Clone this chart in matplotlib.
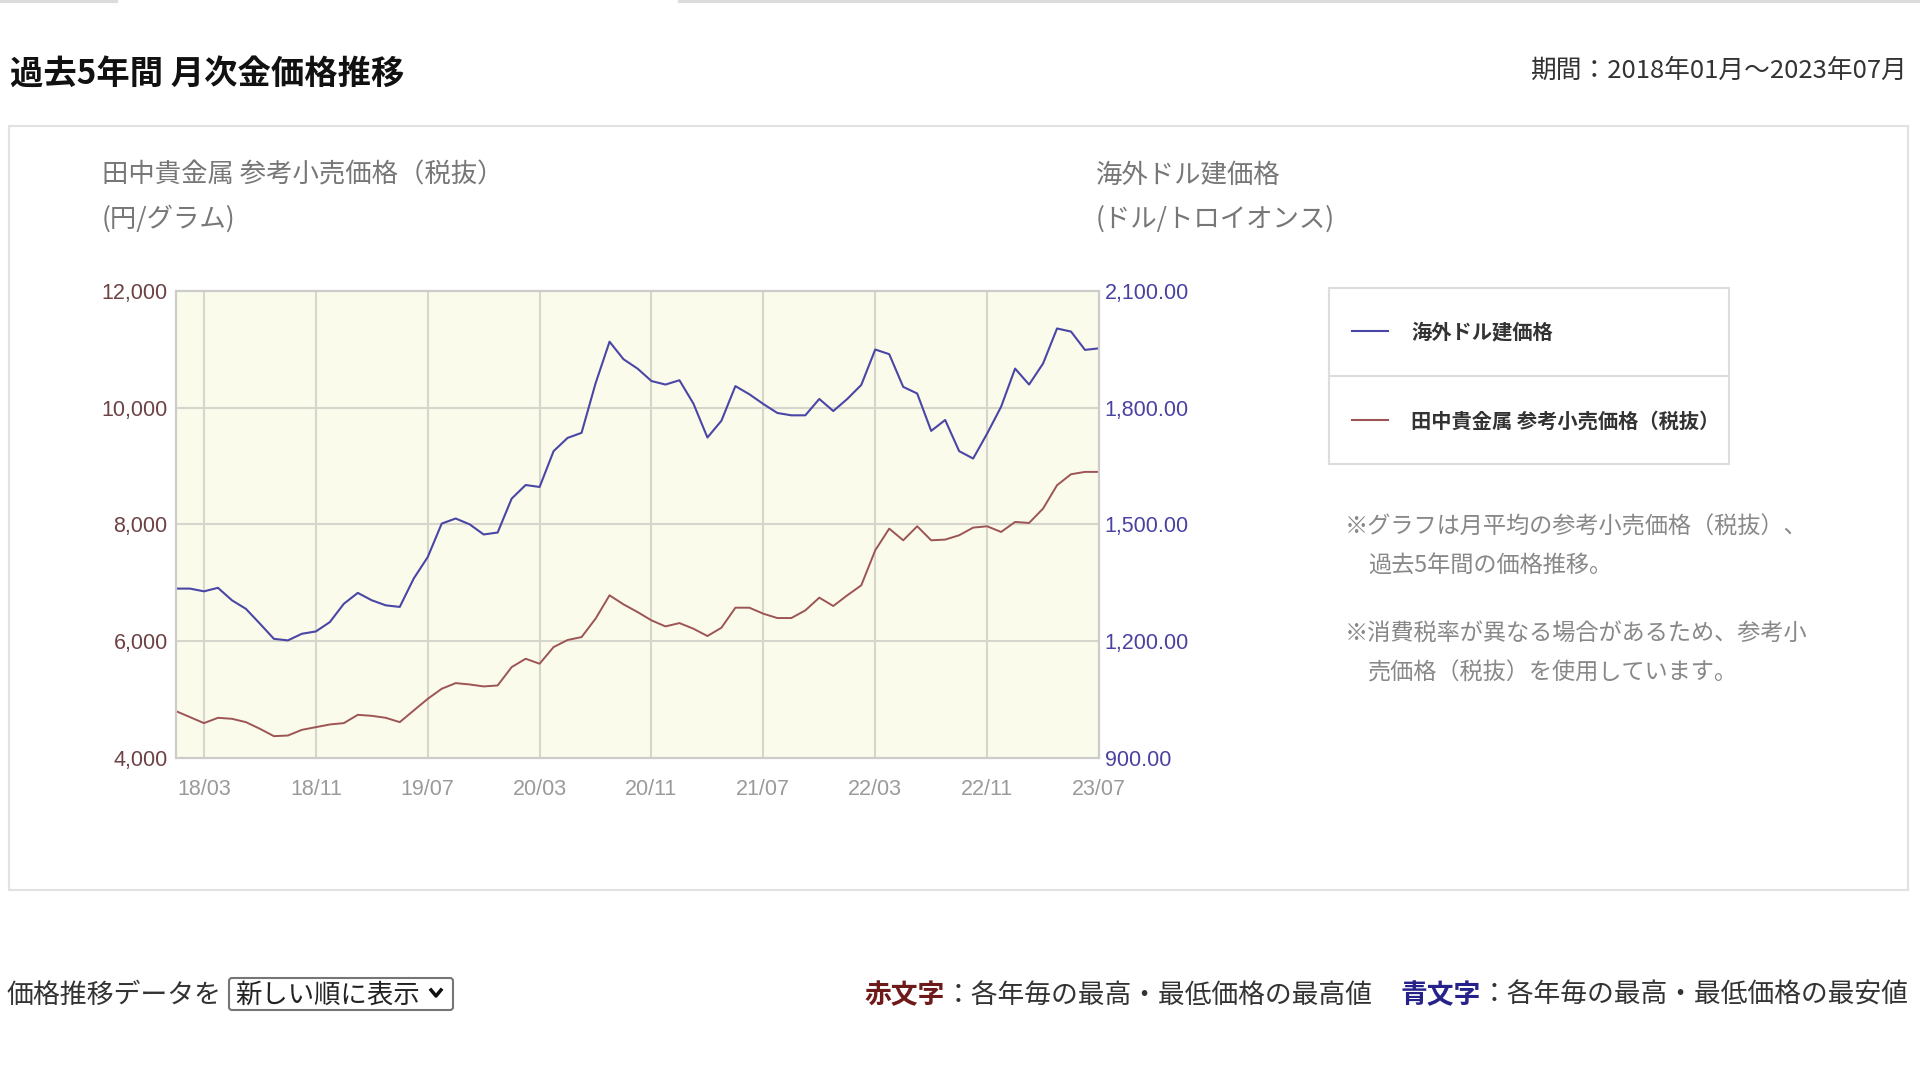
import numpy as np
import pandas as pd
import matplotlib
matplotlib.use('Agg')
import matplotlib.pyplot as plt
from matplotlib.patches import Rectangle, FancyBboxPatch

plt.rcParams['font.family'] = ['Noto Sans CJK JP', 'DejaVu Sans']

# monthly data, 2018/01 - 2023/07
months = pd.date_range('2018-01-01', periods=67, freq='MS')
usd = [1335, 1335, 1328, 1337, 1305, 1283, 1245, 1206, 1202, 1219, 1225, 1249,
       1296, 1324, 1305, 1292, 1288, 1361, 1416, 1502, 1515, 1500, 1474, 1479,
       1566, 1601, 1596, 1688, 1722, 1735, 1862, 1969, 1924, 1900, 1868, 1859,
       1870, 1810, 1723, 1766, 1855, 1834, 1809, 1786, 1780, 1780, 1822, 1791,
       1822, 1858, 1949, 1937, 1853, 1836, 1740, 1768, 1688, 1669, 1733, 1802,
       1900, 1859, 1913, 2003, 1995, 1948, 1952]
yen = [4802, 4700, 4597, 4688, 4671, 4614, 4500, 4374, 4385, 4482, 4528, 4574,
       4597, 4739, 4722, 4688, 4614, 4814, 5013, 5185, 5282, 5259, 5225, 5242,
       5556, 5699, 5614, 5899, 6020, 6070, 6385, 6785, 6630, 6499, 6356, 6253,
       6310, 6213, 6088, 6230, 6573, 6573, 6470, 6396, 6396, 6527, 6745, 6602,
       6785, 6956, 7556, 7927, 7727, 7967, 7727, 7739, 7813, 7944, 7967, 7870,
       8041, 8024, 8270, 8670, 8858, 8898, 8898]
yen_ticks = [4000, 6000, 8000, 10000, 12000]
usd_ticks = [900, 1200, 1500, 1800, 2100]

title = '過去5年間 月次金価格推移'
period = '期間：2018年01月〜2023年07月'
name_usd = '海外ドル建価格'
name_yen = '田中貴金属 参考小売価格（税抜）'
notes = ['※グラフは月平均の参考小売価格（税抜）、', '過去5年間の価格推移。',
         '※消費税率が異なる場合があるため、参考小', '売価格（税抜）を使用しています。']

c_usd = '#4a46a6'
c_yen = '#9c5454'

fig = plt.figure(figsize=(19.2, 10.8), dpi=100)

# background layer in pixel coordinates
bg = fig.add_axes([0, 0, 1, 1], zorder=-1)
bg.set_xlim(0, 1920)
bg.set_ylim(1080, 0)
bg.axis('off')

bg.plot([0, 116], [1, 1], color='#dcdcdc', lw=3)
bg.plot([680, 1920], [1, 1], color='#dcdcdc', lw=3)
bg.text(10, 74, title, fontsize=24, fontweight='bold', color='#111111', va='center')
bg.text(1907, 71, period, fontsize=18.5, color='#333333', va='center', ha='right')
bg.add_patch(Rectangle((9, 126), 1899, 764, fill=False, ec='#e2e2e2', lw=1.5))

bg.text(102, 175, name_yen, fontsize=19, color='#777777', va='center')
bg.text(102, 219, '(円/グラム)', fontsize=19, color='#777777', va='center')
bg.text(1096, 175, name_usd, fontsize=19, color='#777777', va='center')
bg.text(1096, 219, '(ドル/トロイオンス)', fontsize=19, color='#777777', va='center')

# legend box
bg.add_patch(Rectangle((1329, 288), 400, 176, fill=False, ec='#dddddd', lw=1.5))
bg.plot([1329, 1729], [376, 376], color='#dddddd', lw=1.5)
bg.plot([1352, 1388], [331, 331], color=c_usd, lw=1.5)
bg.plot([1352, 1388], [420, 420], color=c_yen, lw=1.5)
bg.text(1411, 332, name_usd, fontsize=14.6, fontweight='bold', color='#333333', va='center')
bg.text(1411, 421, name_yen, fontsize=14.6, fontweight='bold', color='#333333', va='center')

for (x, y), s in zip([(1345, 527), (1368, 566), (1345, 634), (1368, 673)], notes):
    bg.text(x, y, s, fontsize=16.7, color='#888888', va='center')

# bottom row
bg.text(7, 995, '価格推移データを', fontsize=19.4, color='#333333', va='center')
bg.add_patch(FancyBboxPatch((229, 978), 224, 32, boxstyle='round,pad=0,rounding_size=3',
                            fill=False, ec='#767676', lw=1.5))
bg.text(235, 995, '新しい順に表示', fontsize=19, color='#222222', va='center')
bg.plot([431, 436, 441], [990, 996, 990], color='#111111', lw=2.5)

t = bg.text(864, 995, '赤文字', fontsize=19.3, fontweight='bold', color='#6e1a1a', va='center')
bg.annotate('：各年毎の最高・最低価格の最高値', xy=(1, 0.5), xycoords=t, va='center',
            fontsize=19.3, color='#333333')
t = bg.text(1400, 995, '青文字', fontsize=19.3, fontweight='bold', color='#26228a', va='center')
bg.annotate('：各年毎の最高・最低価格の最安値', xy=(1, 0.5), xycoords=t, va='center',
            fontsize=19.3, color='#333333')

# chart
ax = fig.add_axes([176 / 1920, 1 - 758 / 1080, 923 / 1920, 467.3 / 1080])
ax2 = ax.twinx()
x = np.arange(len(months))
ax.plot(x, yen, color=c_yen, lw=1.4)
ax2.plot(x, usd, color=c_usd, lw=1.5)

ax.set_facecolor('#fbfbeb')
ax.set_xlim(0, len(months) - 1)
ax.set_ylim(yen_ticks[0], yen_ticks[-1])
ax2.set_ylim(usd_ticks[0], usd_ticks[-1])
xt = x[2::8]
ax.set_xticks(xt)
ax.set_xticklabels([months[i].strftime('%y/%m') for i in xt])
ax.set_yticks(yen_ticks)
ax.set_yticklabels([f'{v:,}' for v in yen_ticks])
ax2.set_yticks(usd_ticks)
ax2.set_yticklabels([f'{v:,.2f}' for v in usd_ticks])
ax.grid(True, color='#d6d6cc', lw=1.5)

for a in (ax, ax2):
    for sp in a.spines.values():
        sp.set_color('#cccccc')
        sp.set_linewidth(1.5)
    a.tick_params(length=0)
    for lab in a.get_xticklabels() + a.get_yticklabels():
        lab.set_family('Liberation Sans')
ax.tick_params(axis='y', pad=6, labelsize=15.5, labelcolor='#6e4244')
ax.tick_params(axis='x', pad=15, labelsize=15.5, labelcolor='#9a9a9a')
ax2.tick_params(axis='y', pad=4, labelsize=15.5, labelcolor='#4a42a0')

fig.savefig('out.png', dpi=100)
